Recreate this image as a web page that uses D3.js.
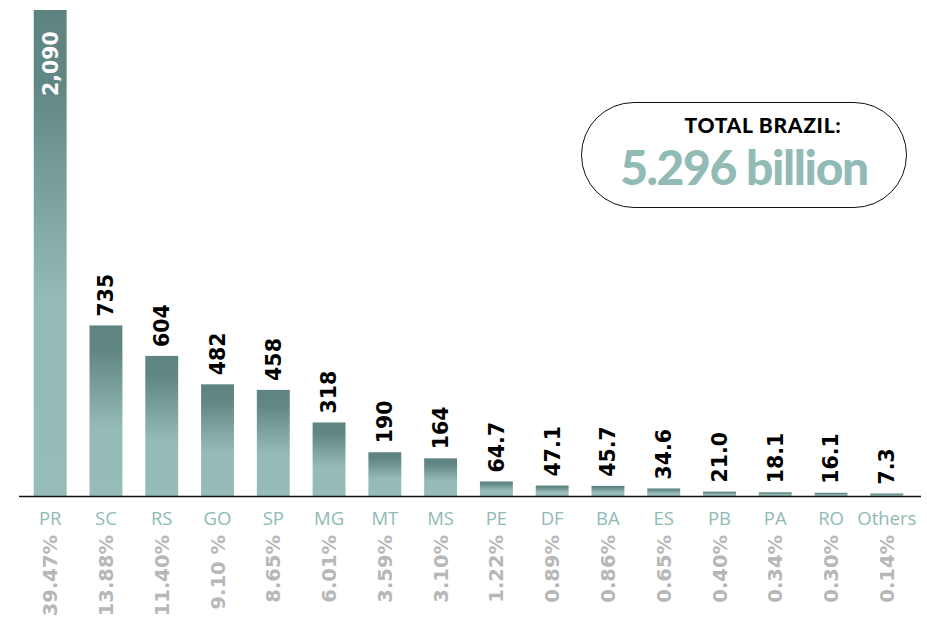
<!DOCTYPE html>
<html>
<head>
<meta charset="utf-8">
<script src="https://cdn.jsdelivr.net/npm/d3@7"></script>
<style>
  body { margin: 0; background: #fff; }
  svg { display: block; }
</style>
</head>
<body>
<svg id="chart" width="927" height="621"></svg>
<script>
// Chart data
const states = ["PR", "SC", "RS", "GO", "SP", "MG", "MT", "MS", "PE", "DF", "BA", "ES", "PB", "PA", "RO", "Others"];
const values = [2090, 735, 604, 482, 458, 318, 190, 164, 64.7, 47.1, 45.7, 34.6, 21.0, 18.1, 16.1, 7.3];
const valueLabels = ["2,090", "735", "604", "482", "458", "318", "190", "164", "64.7", "47.1", "45.7", "34.6", "21.0", "18.1", "16.1", "7.3"];
const shares = ["39.47%", "13.88%", "11.40%", "9.10 %", "8.65%", "6.01%", "3.59%", "3.10%", "1.22%", "0.89%", "0.86%", "0.65%", "0.40%", "0.34%", "0.30%", "0.14%"];
const totalTitle = "TOTAL BRAZIL:";
const totalValue = "5.296 billion";

const data = states.map((s, i) => ({ state: s, value: values[i], label: valueLabels[i], share: shares[i] }));

const svg = d3.select("#chart");
const baseY = 496.5;

// Scales
const x = d3.scaleBand()
  .domain(states)
  .range([17, 920])
  .paddingInner(0.41)
  .paddingOuter(0.3);

const y = d3.scaleLinear()
  .domain([0, 2090])
  .range([baseY, 10]);

// Bar gradient: darker at the top, lighter towards the bottom
const defs = svg.append("defs");
const grad = defs.append("linearGradient")
  .attr("id", "barGrad")
  .attr("x1", 0).attr("y1", 0)
  .attr("x2", 0).attr("y2", 1);
grad.append("stop").attr("offset", "0%").attr("stop-color", "#5e8481");
grad.append("stop").attr("offset", "15%").attr("stop-color", "#618784");
grad.append("stop").attr("offset", "60%").attr("stop-color", "#95bbb6");
grad.append("stop").attr("offset", "100%").attr("stop-color", "#96bcb7");

const barTop = (d) => Math.min(y(d.value), baseY - 3);

// Bars
svg.append("g")
  .selectAll("rect")
  .data(data)
  .join("rect")
  .attr("x", (d) => x(d.state))
  .attr("y", (d) => barTop(d))
  .attr("width", x.bandwidth())
  .attr("height", (d) => baseY - barTop(d))
  .attr("fill", "url(#barGrad)");

// Baseline
svg.append("line")
  .attr("x1", 19).attr("x2", 921)
  .attr("y1", baseY).attr("y2", baseY)
  .attr("stroke", "#111")
  .attr("stroke-width", 1.5);

// Value labels (rotated)
svg.append("g")
  .selectAll("text")
  .data(data)
  .join("text")
  .attr("transform", (d, i) => {
    const cx = x(d.state) + x.bandwidth() / 2;
    const ty = i === 0 ? barTop(d) + 86 : barTop(d) - 9;
    return `translate(${cx},${ty}) rotate(-90)`;
  })
  .attr("dy", "0.36em")
  .attr("font-family", "DejaVu Sans, sans-serif")
  .attr("font-weight", "bold")
  .attr("font-size", 20.5)
  .attr("fill", (d, i) => (i === 0 ? "#fff" : "#000"))
  .text((d) => d.label);

// State names
svg.append("g")
  .selectAll("text")
  .data(data)
  .join("text")
  .attr("x", (d) => x(d.state) + x.bandwidth() / 2)
  .attr("y", 525)
  .attr("text-anchor", "middle")
  .attr("font-family", "Open Sans, sans-serif")
  .attr("font-size", 18.5)
  .attr("fill", "#8fbab4")
  .text((d) => d.state);

// Share labels (rotated)
svg.append("g")
  .selectAll("text")
  .data(data)
  .join("text")
  .attr("transform", (d) => `translate(${x(d.state) + x.bandwidth() / 2},535) rotate(-90)`)
  .attr("text-anchor", "end")
  .attr("dy", "0.36em")
  .attr("font-family", "DejaVu Sans, sans-serif")
  .attr("font-weight", "bold")
  .attr("font-size", 19.5)
  .attr("fill", "#b7b7b7")
  .text((d) => d.share);

// Total box
const box = svg.append("g");
box.append("rect")
  .attr("x", 581.5).attr("y", 102.5)
  .attr("width", 325).attr("height", 105)
  .attr("rx", 52.5).attr("ry", 52.5)
  .attr("fill", "#fff")
  .attr("stroke", "#111")
  .attr("stroke-width", 1);
box.append("text")
  .attr("x", 763).attr("y", 133)
  .attr("text-anchor", "middle")
  .attr("font-family", "Lato, sans-serif")
  .attr("font-weight", 900)
  .attr("font-size", 21)
  .attr("letter-spacing", 0.7)
  .attr("fill", "#000")
  .text(totalTitle);
box.append("text")
  .attr("x", 744).attr("y", 185)
  .attr("text-anchor", "middle")
  .attr("font-family", "Lato, sans-serif")
  .attr("font-weight", 900)
  .attr("font-size", 48)
  .attr("letter-spacing", -1.4)
  .attr("fill", "#93bbb5")
  .text(totalValue);
</script>
</body>
</html>
